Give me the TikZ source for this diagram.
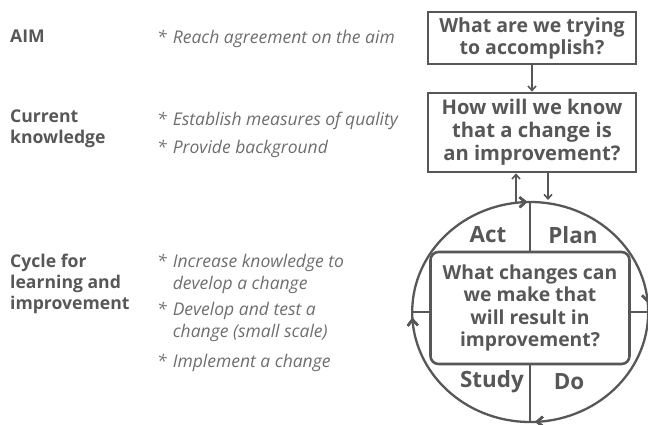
\documentclass[tikz,border=0pt]{standalone}
\usepackage{fontspec}
\setmainfont{Open Sans}
\usetikzlibrary{arrows.meta,decorations.markings,shapes.geometric}
\definecolor{ink}{HTML}{575757}
\definecolor{soft}{HTML}{6E6E6E}
\begin{document}
\begin{tikzpicture}[x=1pt,y=-1pt,
  qbox/.style={draw=ink,line width=2.6pt,inner sep=0pt,align=center,text=ink},
  conn/.style={draw=ink,line width=1.6pt,-{Straight Barb[length=4.5pt,width=8pt]}},
  divider/.style={draw=ink,line width=1.5pt},
  phase/.style={inner sep=0pt,text=ink,font=\bfseries\fontsize{22.4}{26}\selectfont},
  hd/.style={inner sep=0pt,anchor=base west,text=ink,font=\bfseries\fontsize{17.6}{21}\selectfont},
  bul/.style={inner sep=0pt,anchor=base west,text=soft,font=\itshape\fontsize{17.5}{21.5}\selectfont},
  tipmark/.style={decoration={markings,mark=at position #1 with {\arrow{Straight Barb[length=6pt,width=10pt]}}},postaction={decorate}}
]
\useasboundingbox (0,0) rectangle (648,424);

% question boxes
\node[qbox,minimum width=208pt,minimum height=52pt,font=\bfseries\fontsize{19.5}{22}\selectfont] (q1) at (532,38) {What are we trying\\to accomplish?};
\node[qbox,minimum width=208pt,minimum height=79pt,font=\bfseries\fontsize{20.2}{23}\selectfont] (q2) at (532,132.5) {How will we know\\that a change is\\an improvement?};
\draw[conn] (q1) -- (q2);

% cycle
\node[ellipse,minimum width=236pt,minimum height=220pt,inner sep=0pt] (cyc) at (530,312) {};
\draw[ink,line width=2.3pt,tipmark=0.243,tipmark=0.492,tipmark=0.746,tipmark=0.987]
  (cyc.east) arc[start angle=0,end angle=360,x radius=118,y radius=110];
\node[qbox,rounded corners=8pt,minimum width=199pt,minimum height=112pt,font=\bfseries\fontsize{19.3}{22.3}\selectfont] (inner) at (530,308) {What changes can\\we make that\\will result in\\improvement?};
\draw[divider] (cyc.north) -- (inner.north);
\draw[divider] (inner.south) -- (cyc.south);
\draw[divider] (cyc.west) -- (cyc.west -| inner.west);
\draw[divider] (cyc.east) -- (cyc.east -| inner.east);

\node[phase] (act) at (488,235) {Act};
\node[phase] (plan) at (573,235) {Plan};
\node[phase] (study) at (492,382) {Study};
\node[phase] (do) at (569,382) {Do};

% links between box and cycle
\coordinate (u0) at (516,202.8);
\draw[conn] (u0) -- (u0 |- q2.south);
\coordinate (d1) at (548,200);
\draw[conn] (d1 |- q2.south) -- (d1);

% left column
\node[hd] (aim) at (10,42.5) {\begin{tabular}[t]{@{}l@{}}AIM\end{tabular}};
\node[hd] (cur) at (10,122.5) {\begin{tabular}[t]{@{}l@{}}Current\\knowledge\end{tabular}};
\node[hd] (cyc-lbl) at (10,267.5) {\begin{tabular}[t]{@{}l@{}}Cycle for\\learning and\\improvement\end{tabular}};

\node[bul] (b1) at (157,43.5) {\begin{tabular}[t]{@{}l@{\hspace{6pt}}l@{}}*&Reach agreement on the aim\end{tabular}};
\node[bul] (b2) at (157,125.5) {\begin{tabular}[t]{@{}l@{\hspace{6pt}}l@{}}*&Establish measures of quality\end{tabular}};
\node[bul] (b3) at (157,153.5) {\begin{tabular}[t]{@{}l@{\hspace{6pt}}l@{}}*&Provide background\end{tabular}};
\node[bul] (b4) at (157,267.5) {\begin{tabular}[t]{@{}l@{\hspace{6pt}}l@{}}*&Increase knowledge to\\&develop a change\end{tabular}};
\node[bul] (b5) at (157,315.5) {\begin{tabular}[t]{@{}l@{\hspace{6pt}}l@{}}*&Develop and test a\\&change (small scale)\end{tabular}};
\node[bul] (b6) at (157,367.5) {\begin{tabular}[t]{@{}l@{\hspace{6pt}}l@{}}*&Implement a change\end{tabular}};
\end{tikzpicture}
\end{document}
